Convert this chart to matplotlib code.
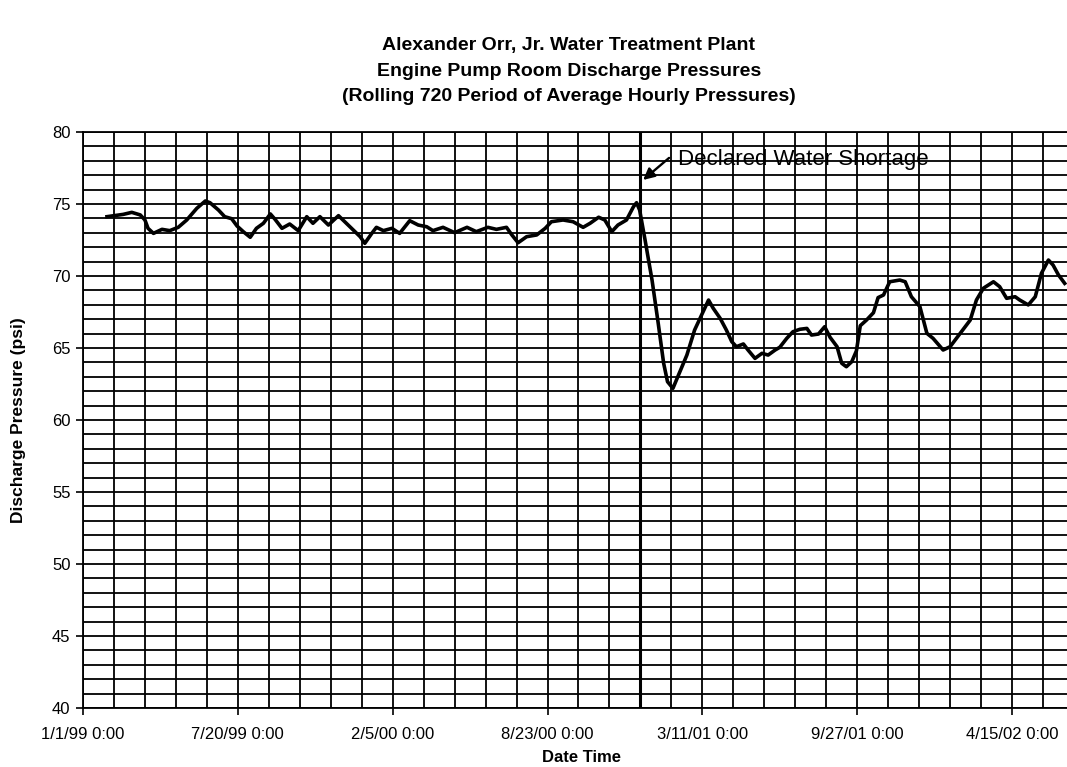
import numpy as np
import matplotlib
matplotlib.use("Agg")
import matplotlib.pyplot as plt
import matplotlib.dates as mdates
from matplotlib.ticker import FixedLocator, NullFormatter

plt.rcParams['font.family'] = ['Liberation Sans', 'DejaVu Sans']

# ---- data -------------------------------------------------------------
start_date = '1999-01-01'
shortage_date = '2000-12-21'

# days after start_date for each reading of the 720-hour rolling average
days_since_start = [
    31, 52, 63, 74, 80, 84, 91, 102, 112, 123, 134, 147, 158, 164, 175, 183,
    192, 199, 207, 216, 224, 233, 242, 248, 257, 267, 278, 289, 297, 306, 317,
    330, 338, 349, 358, 364, 373, 379, 388, 399, 409, 422, 433, 444, 452, 461,
    465, 480, 496, 508, 523, 534, 547, 554, 562, 573, 586, 597, 605, 620, 633,
    646, 655, 666, 674, 683, 691, 702, 711, 715, 719,
    726, 735, 743, 750, 755, 762, 771, 780, 790, 801, 808, 814, 823, 831, 838,
    844, 853, 859, 868, 877, 885, 894, 900, 909, 917, 926, 935, 941, 950, 958,
    965, 974, 980, 986, 993, 999, 1004, 1012, 1021, 1027, 1034, 1042, 1055,
    1062, 1070, 1081, 1090, 1098, 1111, 1120, 1133, 1146, 1154, 1163, 1176,
    1184, 1193, 1204, 1210, 1221, 1230, 1238, 1247, 1253, 1260, 1268,
]
pressure_psi = [
    74.12, 74.28, 74.42, 74.24, 73.89, 73.31, 72.96, 73.24, 73.15, 73.38,
    73.89, 74.70, 75.21, 75.09, 74.58, 74.12, 73.98, 73.47, 73.08, 72.69,
    73.31, 73.66, 74.31, 73.94, 73.31, 73.61, 73.15, 74.12, 73.66, 74.12,
    73.54, 74.19, 73.77, 73.19, 72.73, 72.27, 72.96, 73.38, 73.15, 73.31,
    72.96, 73.84, 73.54, 73.42, 73.15, 73.31,
    73.38, 73.01, 73.38, 73.08, 73.38, 73.24, 73.38, 72.85, 72.31, 72.73,
    72.85, 73.31, 73.77, 73.89, 73.77, 73.38, 73.66, 74.08, 73.89, 73.08,
    73.54, 73.89, 74.81, 75.09, 74.58,
    72.50, 69.72, 66.71, 63.94, 62.66, 62.20, 63.36, 64.51, 66.25, 67.52,
    68.33, 67.76, 67.06, 66.25, 65.44, 65.09, 65.28, 64.86, 64.28, 64.63,
    64.51, 64.86, 65.05, 65.67, 66.13, 66.30, 66.36, 65.90, 65.97, 66.48,
    65.74, 65.09, 63.94, 63.70, 64.05, 64.80, 66.55, 66.94, 67.45, 68.50,
    68.68, 69.60, 69.72, 69.60, 68.56, 67.87, 66.02, 65.67, 64.86, 65.09,
    66.02, 66.94, 68.33, 69.15, 69.60, 69.26, 68.45, 68.56, 68.33, 67.99,
    68.56, 70.19, 71.11, 70.76, 70.07, 69.49,
]

tick_labels = ['1/1/99 0:00', '7/20/99 0:00', '2/5/00 0:00', '8/23/00 0:00',
               '3/11/01 0:00', '9/27/01 0:00', '4/15/02 0:00']
label_step_days = 200
grid_step_days = 40

title = ("Alexander Orr, Jr. Water Treatment Plant\n"
         "Engine Pump Room Discharge Pressures\n"
         "(Rolling 720 Period of Average Hourly Pressures)")
annotation_text = "Declared Water Shortage"

# ---- figure -------------------------------------------------------------
W, H = 1067, 767
fig = plt.figure(figsize=(W / 100, H / 100), dpi=100)
ax = fig.add_axes([83 / W, (H - 708) / H, (W - 83) / W, (708 - 132) / H])

t0 = mdates.date2num(np.datetime64(start_date))
x = t0 + np.asarray(days_since_start, dtype=float)

ax.plot(x, pressure_psi, color='black', lw=2.6, solid_joinstyle='round',
        zorder=4)

xs = mdates.date2num(np.datetime64(shortage_date))
ax.axvline(xs, color='black', lw=2.2, zorder=5)

ax.set_xlim(t0, t0 + 1271)
ax.set_ylim(40, 80)

major_x = t0 + np.arange(len(tick_labels)) * label_step_days
minor_x = t0 + np.arange(0, 1280, grid_step_days)
ax.xaxis.set_major_locator(FixedLocator(major_x))
ax.xaxis.set_minor_locator(FixedLocator(minor_x))
ax.set_xticklabels(tick_labels)
ax.xaxis.set_minor_formatter(NullFormatter())

ax.yaxis.set_major_locator(FixedLocator(np.arange(40, 81, 5)))
ax.yaxis.set_minor_locator(FixedLocator(np.arange(40, 81, 1)))

ax.grid(True, which='both', color='black', lw=1.3)
ax.set_axisbelow(True)
ax.tick_params(which='major', length=5, width=1.2, labelsize=12, color='black')
ax.tick_params(axis='x', which='major', pad=9)
ax.tick_params(axis='y', which='major', pad=4)
ax.tick_params(which='minor', length=0)

for side in ('left', 'bottom', 'top'):
    ax.spines[side].set_linewidth(1.3)
ax.spines['right'].set_visible(False)

# label text and its pointer to the shortage line
ax.text(t0 + 769, 78.12, annotation_text, ha='left', va='center',
        fontsize=16, zorder=6)
ax.annotate('', xy=(xs + 3.5, 76.67), xytext=(t0 + 757, 78.2),
            arrowprops=dict(arrowstyle='-|>', color='black', lw=1.7,
                            mutation_scale=17, shrinkA=0, shrinkB=0),
            zorder=6)

fig.text(569 / W, 1 - 71 / H, title, ha='center', va='center',
         fontsize=14, fontweight='bold', linespacing=1.62)
fig.text(581 / W, 1 - 758 / H, 'Date Time', ha='center', va='center',
         fontsize=12, fontweight='bold')
fig.text(19 / W, 1 - 420 / H, 'Discharge Pressure (psi)', ha='center',
         va='center', rotation=90, fontsize=12.5, fontweight='bold')

fig.savefig('out.png', dpi=100)
